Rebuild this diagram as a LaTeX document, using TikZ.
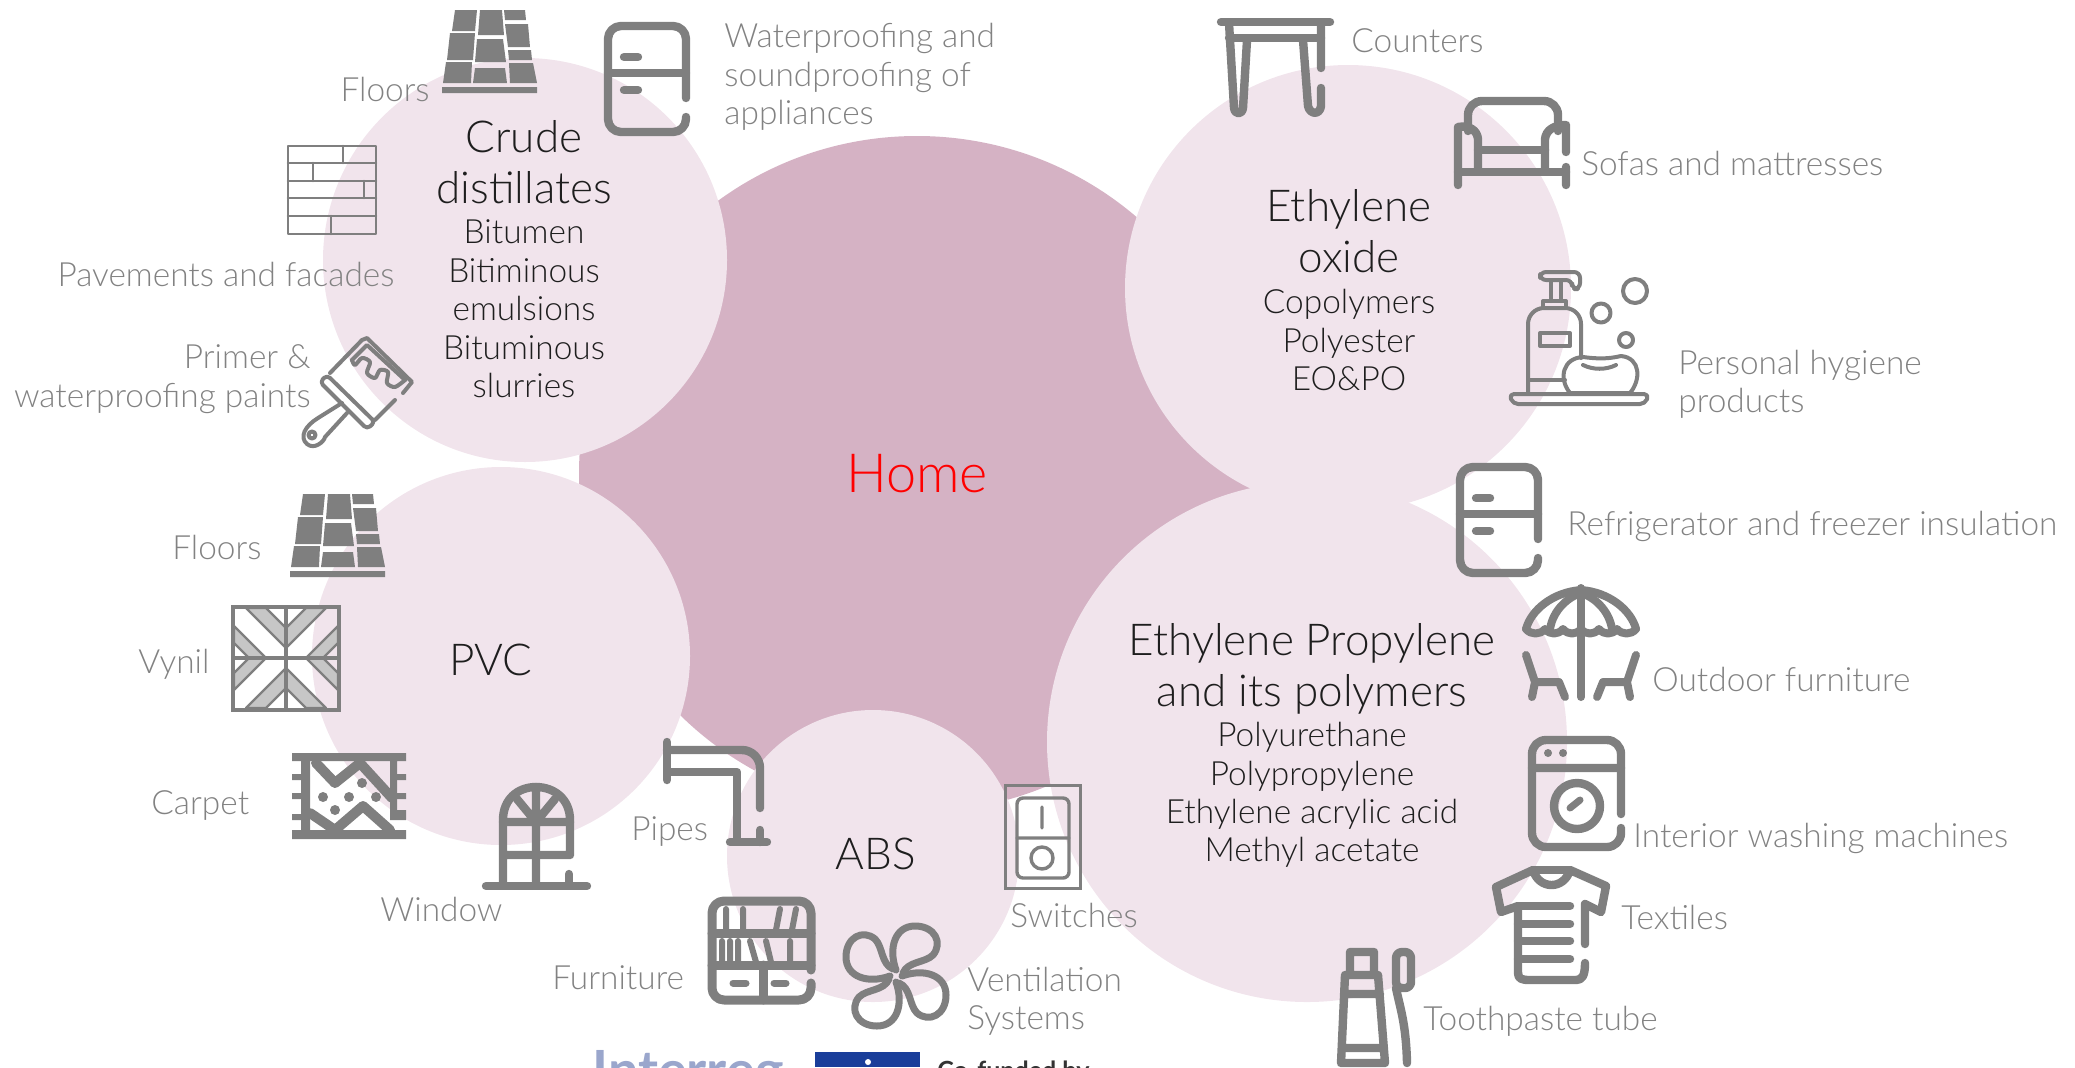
\documentclass[tikz,border=0pt]{standalone}
\usepackage{fontspec}
\setmainfont{Lato}[UprightFont=* Light,BoldFont=* Bold]
\definecolor{blobdark}{HTML}{D5B2C4}
\definecolor{bloblight}{HTML}{F1E4EC}
\definecolor{icongrey}{HTML}{7F7F7F}
\definecolor{labelgrey}{HTML}{828282}
\definecolor{plankgrey}{HTML}{C6C6C6}
\definecolor{maintext}{HTML}{1E1E1E}
\definecolor{logoblue}{HTML}{9AA6CC}
\definecolor{flagblue}{HTML}{1A3E9A}
\tikzset{
	blob/.style={circle,fill=bloblight,inner sep=0pt},
	glabel/.style={text=labelgrey,inner sep=0pt,font=\fontsize{16.7}{19.2}\selectfont,text height=11.5pt,text depth=0pt},
	glines/.style={text=labelgrey,inner sep=0pt,font=\fontsize{16.7}{19.2}\selectfont},
	titletext/.style={text=maintext,inner sep=0pt,align=center,font=\fontsize{22}{25.6}\selectfont},
	subtext/.style={text=maintext,inner sep=0pt,align=center,font=\fontsize{16.7}{19.2}\selectfont},
	heavy/.style={draw=icongrey,line width=4.2pt,line cap=round,line join=round},
	thin line/.style={draw=icongrey,line width=2pt,line cap=round,line join=round},
	pics/floorsicon/.style={code={
		\fill[icongrey] (13,0)--(35,0)--(33,21)--(10,21)--cycle
			(38,0)--(60,0)--(62,25)--(36,25)--cycle
			(62,0)--(83,0)--(84,10)--(63,10)--cycle
			(8,23)--(33,23)--(31,50)--(5,50)--cycle
			(35,29)--(61,29)--(64,52)--(33,52)--cycle
			(63,14)--(86,14)--(88,37)--(66,37)--cycle
			(66,40)--(89,40)--(90,50)--(67,50)--cycle
			(4,52)--(30,52)--(29,73)--(1,73)--cycle
			(33,58)--(63,58)--(65,73)--(31,73)--cycle
			(67,53)--(91,53)--(95,73)--(68,73)--cycle
			(0,77) rectangle (95,83);
	}},
	pics/fridgeicon/.style={code={
		\draw[heavy,rounded corners=6.5pt] (82,76)--(82,4)--(4,4)--(4,110)--(82,110)--(82,95);
		\draw[heavy] (4,51)--(82,51) (20,35)--(34,35) (20,68)--(34,68);
	}},
	pics/brickicon/.style={code={
		\draw[thin line,line width=1.3pt] (0,0) rectangle (88,88);
		\draw[thin line,line width=1.3pt] (0,17)--(88,17) (0,35)--(88,35) (0,52)--(88,52) (0,70)--(88,70)
			(55,0)--(55,17) (25,17)--(25,35) (76,35)--(76,52) (43,70)--(43,88);
	}},
	pics/brushicon/.style={code={
		\draw[thin line] (28,36)--(60,3)--(65,1)--(110,45)--(101,56) (93,63)--(73,83);
		\draw[thin line,rounded corners=2pt] (25,38)--(18,45)--(65,92)--(73,85)--cycle;
		\draw[thin line] plot[smooth] coordinates {(103,43)(93,50)(85,46)(86,35)(78,33)(73,41)(65,36)(68,25)(60,21)(53,28)(50,23)};
		\draw[thin line] (50,23)--(65,8)--(103,43);
		\draw[thin line] (40,66)--(16,81) .. controls (3,89) and (-3,100) .. (5,107) .. controls (12,113) and (22,105) .. (23,100)--(45,76);
		\draw[thin line] (10,98) circle (3.5);
	}},
	pics/tableicon/.style={code={
		\draw[heavy] (3,4)--(112,4) (11,20)--(103,20);
		\draw[heavy] (11,5)--(16,90) .. controls (17,97) and (24,97) .. (25,90)--(29,22);
		\draw[heavy] (103,5)--(103,50) (103,70)--(103,88) .. controls (102,97) and (92,97) .. (90,88)--(85,22);
	}},
	pics/sofaicon/.style={code={
		\draw[heavy,rounded corners=7pt] (14,34)--(14,4)--(104,4)--(104,34);
		\draw[heavy] (4,88)--(4,30) .. controls (15,28) and (23,33) .. (24,42)--(24,73);
		\draw[heavy] (91,73)--(91,42) .. controls (92,33) and (100,28) .. (112,28)--(112,55) (112,70)--(112,88);
		\draw[heavy] (4,75)--(112,75) (24,53)--(91,53);
	}},
	pics/soapicon/.style={code={
		\draw[thin line,rounded corners=3pt] (32,4)--(72,4)--(72,21)--(64,21)--(64,12)--(32,12)--cycle;
		\draw[thin line] (43,12)--(43,33) (53,12)--(53,33);
		\draw[thin line] (35,40) rectangle (58,33);
		\draw[thin line,rounded corners=8pt] (73,90)--(73,40)--(20,40)--(20,125);
		\draw[thin line] (32,65) rectangle (62,78) (20,112)--(57,112);
		\draw[thin line] (62,125) .. controls (50,110) and (55,90) .. (75,89) .. controls (90,91) and (100,91) .. (113,88) .. controls (133,90) and (133,112) .. (122,125)--cycle;
		\draw[thin line] (75,97) .. controls (85,102) and (98,102) .. (108,97);
		\draw[thin line,rounded corners=2.5pt] (1,126)--(141,126)--(137,136)--(5,136)--cycle;
		\draw[thin line] (127,23) circle (12) (93,45) circle (9.5) (118,72) circle (7);
	}},
	pics/vinylicon/.style={code={
		\foreach \sx/\sy in {1/1,-1/1,1/-1,-1/-1} {
			\begin{scope}[shift={(54,53)},xscale=\sx,yscale=\sy]
				\filldraw[thin line,line width=1.2pt,fill=plankgrey] (-40,-50)--(-20,-50)--(0,-30)--(0,-10)--cycle;
				\filldraw[thin line,line width=1.2pt,fill=plankgrey] (-52,-32)--(-20,0)--(-37,0)--(-52,-15)--cycle;
			\end{scope}
		}
		\draw[thin line,line width=1.8pt,line join=miter] (1,2) rectangle (107,105);
		\draw[thin line,line width=1.8pt] (54,2)--(54,105) (1,53)--(107,53);
	}},
	pics/carpeticon/.style={code={
		\fill[icongrey] (0,0) rectangle (114,8) (0,77) rectangle (114,86) (9,0) rectangle (18,86) (98,0) rectangle (105,67) (98,57) rectangle (114,67);
		\fill[icongrey] (0,21) rectangle (9,27) (0,40) rectangle (9,46) (0,61) rectangle (9,67)
			(105,21) rectangle (114,27) (105,40) rectangle (114,46);
		\draw[heavy,line width=5pt] (24,10)--(43,30)--(68,10)--(100,45) (18,60)--(43,77)--(71,53)--(98,77);
		\fill[icongrey] (31,44) circle (5) (57,44) circle (5) (84,44) circle (5) (70,30) circle (5) (43,57) circle (5);
	}},
	pics/windowicon/.style={code={
		\draw[heavy] (3,102)--(104,102) (86,90)--(86,100);
		\draw[heavy] (20,100)--(20,36) .. controls (20,15) and (35,3) .. (53,3) .. controls (71,3) and (87,15) .. (87,36)--(87,71)--(20,71);
		\draw[heavy] (20,38)--(87,38) (53,3)--(53,100) (53,38)--(34,15) (53,38)--(72,15);
	}},
	pics/pipeicon/.style={code={
		\draw[heavy] (7,7)--(7,45) (100,95)--(100,107) (70,107)--(107,107);
		\draw[heavy,rounded corners=9pt] (7,15)--(100,15)--(100,73);
		\draw[heavy,line cap=butt] (7,37)--(77,37)--(77,107);
	}},
	pics/switchicon/.style={code={
		\draw[thin line,line width=1.5pt,line join=miter] (0,0) rectangle (75,103);
		\draw[thin line,line width=1.7pt,rounded corners=3pt] (12,13) rectangle (64,93);
		\draw[thin line,line width=1.7pt] (12,53)--(64,53) (37,22)--(37,43) (37,73) circle (11);
	}},
	pics/furnitureicon/.style={code={
		\draw[heavy,rounded corners=6pt,line width=4.5pt] (103,73)--(103,4)--(4,4)--(4,103)--(103,103)--(103,86);
		\draw[heavy,line width=4.5pt] (4,36)--(103,36) (4,68)--(103,68) (55,68)--(55,103);
		\draw[heavy,line width=3.5pt] (25,86)--(38,86) (66,86)--(78,86);
		\draw[heavy,line width=3pt] (18,12)--(18,33) (35,12)--(35,33) (72,12)--(68,33) (88,12)--(84,33);
		\draw[heavy,line width=3pt] (14,44)--(14,65) (22,44)--(22,65) (30,44)--(30,65) (42,44)--(48,65) (58,44)--(63,65) (82,44)--(82,65);
	}},
	pics/fanicon/.style={code={
		\foreach \ang in {0,90,180,270}
			\draw[heavy,line width=3.5pt,rotate around={\ang:(53,53)}] (53,47) .. controls (45,25) and (52,3) .. (72,3) .. controls (92,3) and (100,20) .. (90,32) .. controls (82,40) and (65,38) .. (60,50);
	}},
	pics/umbrellaicon/.style={code={
		\draw[heavy,line width=4pt] (58,3)--(58,112);
		\draw[heavy,line width=4pt] (3,44) .. controls (8,25) and (30,7) .. (58,5) .. controls (86,7) and (108,25) .. (113,44);
		\draw[heavy,line width=4pt] (3,44) .. controls (8,50) and (17,50) .. (22,44) .. controls (27,50) and (35,50) .. (40,44) .. controls (45,50) and (53,50) .. (58,44) .. controls (63,50) and (71,50) .. (76,44) .. controls (81,50) and (89,50) .. (94,44) .. controls (99,50) and (108,50) .. (113,44);
		\draw[heavy,line width=4pt] (27,44) .. controls (30,25) and (45,12) .. (58,8) .. controls (71,12) and (86,25) .. (89,44);
		\draw[heavy,line width=4pt] (3,70)--(12,97)--(36,97) (12,97)--(9,112) (36,97)--(42,112);
		\draw[heavy,line width=4pt] (113,70)--(104,97)--(80,97) (104,97)--(107,112) (80,97)--(74,112);
	}},
	pics/washericon/.style={code={
		\draw[heavy,rounded corners=7pt] (93,78)--(93,4)--(4,4)--(4,111)--(93,111)--(93,92);
		\draw[heavy] (4,32)--(93,32) (49,70) circle (23);
		\draw[heavy,line width=3.5pt] (42,72)--(52,64);
		\fill[icongrey] (20,17) circle (4) (35,17) circle (4);
	}},
	pics/shirticon/.style={code={
		\draw[heavy] (24,107)--(24,40)--(7,46)--(2,21)--(39,4) .. controls (45,24) and (70,24) .. (76,4)--(112,20)--(107,46)--(91,38)--(91,78);
		\draw[heavy] (39,4)--(76,4);
		\draw[heavy] (24,107) .. controls (24,113) and (28,114) .. (36,114)--(82,114) .. controls (88,114) and (91,110) .. (91,97);
		\draw[heavy] (24,40)--(76,40) (24,58)--(76,58) (24,75)--(76,75) (24,93)--(76,93);
	}},
	pics/tubeicon/.style={code={
		\draw[heavy] (30,34)--(30,14)--(54,14)--(54,34) (25,37)--(58,37)--(65,125)--(21,125)--cycle
			(24,56)--(60,56) (22,110)--(64,110);
		\draw[heavy,rounded corners=3pt] (76,50)--(76,14)--(91,14)--(91,50)--cycle;
		\draw[heavy] (76,50) .. controls (80,70) and (86,85) .. (87,125);
	}},
}
\begin{document}
\begin{tikzpicture}[x=0.5pt,y=-0.5pt]
	\useasboundingbox (0,0) rectangle (2075,1067);
	\clip (0,0) rectangle (2075,1067);
	\node[blob,fill=blobdark,minimum size=338pt] (home) at (917,474) {};
	\node[blob,minimum size=202pt] (crude) at (525,260) {};
	\node[blob,minimum size=223pt] (eo) at (1348,288) {};
	\node[blob,minimum size=260pt] (ep) at (1307,742) {};
	\node[blob,minimum size=189pt] (pvc) at (501,656) {};
	\node[blob,minimum size=146pt] (abs) at (873,856) {};

	\node[text=red,inner sep=0pt,font=\fontsize{27}{30}\selectfont] (hometext) at (917,474) {Home};
	\node[titletext] (crudetitle) at (524,162) {Crude\\distillates};
	\node[subtext] (crudesub) at (524,309) {Bitumen\\Bitiminous\\emulsions\\Bituminous\\slurries};
	\node[titletext] (eotitle) at (1349,231) {Ethylene\\oxide};
	\node[subtext] (eosub) at (1349,340) {Copolymers\\Polyester\\EO\&PO};
	\node[titletext] (eptitle) at (1312,669) {Ethylene Propylene\\and its polymers};
	\node[subtext] (epsub) at (1312,795) {Polyurethane\\Polypropylene\\Ethylene acrylic acid\\Methyl acetate};
	\node[titletext] (pvctitle) at (491,660) {PVC};
	\node[titletext] (abstitle) at (876,854) {ABS};

	\pic (floorsa) at (442,10) {floorsicon};
	\pic (floorsb) at (290,494) {floorsicon};
	\pic (fridgea) at (604,22) {fridgeicon};
	\pic (fridgeb) at (1456,463) {fridgeicon};
	\pic (brick) at (288,146) {brickicon};
	\pic (brush) at (302,337) {brushicon};
	\pic (table) at (1218,18) {tableicon};
	\pic (sofa) at (1454,97) {sofaicon};
	\pic (soap) at (1508,268) {soapicon};
	\pic (vinyl) at (232,605) {vinylicon};
	\pic (carpet) at (292,753) {carpeticon};
	\pic (window) at (483,784) {windowicon};
	\pic (pipe) at (660,735) {pipeicon};
	\pic (switch) at (1005,785) {switchicon};
	\pic (furniture) at (708,897) {furnitureicon};
	\pic (fan) at (843,923) {fanicon};
	\pic (umbrella) at (1523,585) {umbrellaicon};
	\pic (washer) at (1528,736) {washericon};
	\pic (shirt) at (1494,866) {shirticon};
	\pic (tube) at (1320,938) {tubeicon};

	\node[glabel,anchor=east] (lfloorsa) at (430,90) {Floors};
	\node[glines,anchor=west,align=left] (lwater) at (724,77) {Waterproofing and\\soundproofing of\\appliances};
	\node[glabel] (lpave) at (226,275) {Pavements and facades};
	\node[glines,anchor=east,align=right] (lprimer) at (311,379) {Primer \&\\waterproofing paints};
	\node[glabel,anchor=west] (lcount) at (1351,41) {Counters};
	\node[glabel,anchor=west] (lsofa) at (1581,164) {Sofas and mattresses};
	\node[glines,anchor=west,align=left] (lhyg) at (1678,384) {Personal hygiene\\products};
	\node[glabel,anchor=west] (lfridge) at (1567,524) {Refrigerator and freezer insulation};
	\node[glabel,anchor=west] (lout) at (1652,680) {Outdoor furniture};
	\node[glabel,anchor=west] (lwash) at (1633,836) {Interior washing machines};
	\node[glabel,anchor=west] (ltex) at (1621,918) {Textiles};
	\node[glabel,anchor=west] (ltube) at (1423,1019) {Toothpaste tube};
	\node[glabel,anchor=west] (lswitch) at (1010,916) {Switches};
	\node[glines,anchor=west,align=left] (lvent) at (967,1001) {Ventilation\\Systems};
	\node[glabel,anchor=west] (lfurn) at (552,978) {Furniture};
	\node[glabel,anchor=west] (lwin) at (380,910) {Window};
	\node[glabel,anchor=west] (lpipe) at (631,829) {Pipes};
	\node[glabel,anchor=west] (lcarpet) at (151,803) {Carpet};
	\node[glabel,anchor=west] (lvynil) at (138,662) {Vynil};
	\node[glabel,anchor=west] (lfloorsb) at (172,548) {Floors};

	\node[anchor=north west,inner sep=0pt,text=logoblue,font=\bfseries\fontsize{27}{30}\selectfont] (interreg) at (592,1050) {Interreg};
	\fill[flagblue] (815,1052) rectangle (920,1067);
	\fill[white] (868,1062) circle (3);
	\node[anchor=north west,inner sep=0pt,text=black!80,font=\bfseries\fontsize{12.5}{15}\selectfont] (cofund) at (937,1061) {Co-funded by};
\end{tikzpicture}
\end{document}
